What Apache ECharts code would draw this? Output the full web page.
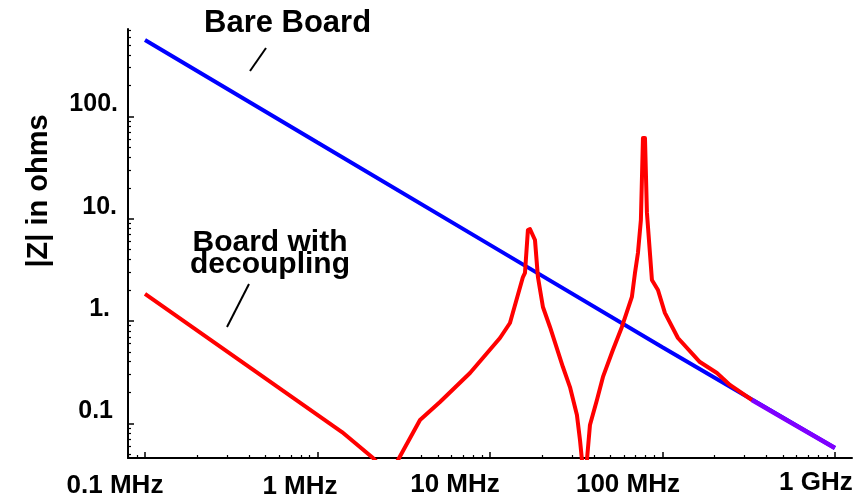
<!DOCTYPE html>
<html><head><meta charset="utf-8">
<script src="https://cdn.jsdelivr.net/npm/echarts@6/dist/echarts.min.js"></script>
<style>html,body{margin:0;padding:0;background:#fff}#c{width:865px;height:499px}</style>
</head><body><div id="c"></div>
<script>
// ---- tick values / labels ----
const freqMajor = [0.1, 1, 10, 100, 1000];
const freqLabels = ['0.1 MHz', '1 MHz', '10 MHz', '100 MHz', '1 GHz'];
const freqMinor = [0.08, 0.09, 0.2, 0.3, 0.4, 0.5, 0.6, 0.7, 0.8, 0.9, 2, 3, 4, 5, 6, 7, 8, 9,
  20, 30, 40, 50, 60, 70, 80, 90, 200, 300, 400, 500, 600, 700, 800, 900];
const zMajor = [0.1, 1, 10, 100];
const zLabels = ['0.1', '1.', '10.', '100.'];
const zMinor = [0.05, 0.06, 0.07, 0.08, 0.09, 0.2, 0.3, 0.4, 0.5, 0.6, 0.7, 0.8, 0.9,
  2, 3, 4, 5, 6, 7, 8, 9, 20, 30, 40, 50, 60, 70, 80, 90, 200, 300, 400, 500, 600, 700];

// ---- series (frequency in MHz, |Z| in ohms) ----
const bareFreq = [0.1, 1, 10, 100, 1000];
const bareZ = [558, 55.5, 5.55, 0.555, 0.0574];
const decFreq = [0.1, 1.387, 2.10, 2.63, 2.93, 3.93, 5.13, 7.66, 11.43, 13.06, 15.53, 15.96,
  16.60, 17.06, 18.24, 18.97, 20.28, 22.28, 26.49, 29.10, 31.93, 33.26, 34.15, 35.3, 36.5,
  38.0, 41.7, 45.2, 51.6, 58.2, 66.5, 69.3, 72.1, 75.0, 77.1, 79.2, 81.3, 86.9, 94.2, 103.3,
  123.0, 164.9, 207.0, 246.1, 330.4];
const decZ = [1.84, 0.0822, 0.0458, 0.0305, 0.0438, 0.1077, 0.1616, 0.310, 0.682, 0.956, 2.69,
  2.95, 7.76, 7.93, 6.19, 2.69, 1.37, 0.874, 0.355, 0.226, 0.1205, 0.0687, 0.0438, 0.0223,
  0.0438, 0.0962, 0.169, 0.284, 0.521, 0.874, 1.72, 2.95, 4.62, 9.71, 61.5, 61.5, 11.4, 2.52,
  2.01, 1.20, 0.682, 0.397, 0.310, 0.237, 0.169];
const overlapFreq = [330.4, 548, 1000];
const overlapZ = [0.169, 0.103, 0.0574];

const FONT = "'Liberation Sans', Arial, Helvetica, sans-serif";
const zip = (a, b) => a.map((v, i) => [v, b[i]]);
const nearestIdx = (arr, v) => {
  let best = 0, bd = Infinity;
  arr.forEach((t, i) => { const d = Math.abs(Math.log10(t) - Math.log10(v)); if (d < bd) { bd = d; best = i; } });
  return best;
};

const xLabelPad = [[6, 60, 0, 0], [9, 35, 0, 0], [5, 70, 0, 0], [5, 69, 0, 0], [0, 38, 0, 0]];
const yLabelPad = [[0, 5, 0, 0], [0, 8, 0, 0], [0, 1, 0, 0], [0, 0, 0, 0]];
const xRich = {}, yRich = {};
xLabelPad.forEach((p, i) => { xRich['x' + i] = { fontFamily: FONT, fontWeight: 'bold', fontSize: 26, color: '#000', lineHeight: 25, padding: p }; });
yLabelPad.forEach((p, i) => { yRich['y' + i] = { fontFamily: FONT, fontWeight: 'bold', fontSize: 25, color: '#000', lineHeight: 24, padding: p }; });

const XMIN = 0.0797, XMAX = 1256, YMIN = 0.0458, YMAX = 715;

const chart = echarts.init(document.getElementById('c'), null, { renderer: 'canvas' });
chart.setOption({
  backgroundColor: '#fff',
  animation: false,
  grid: { left: 128, right: 13, top: 29, bottom: 41, containLabel: false, outerBoundsMode: 'none' },
  xAxis: [
    {
      type: 'log', logBase: 10, min: XMIN, max: XMAX, position: 'bottom',
      axisLine: { show: true, lineStyle: { color: '#000', width: 2 } },
      axisTick: { show: true, inside: true, length: 6, customValues: freqMajor, lineStyle: { color: '#000', width: 1.5 } },
      axisLabel: {
        show: true, margin: 12, customValues: freqMajor,
        fontFamily: FONT, fontWeight: 'bold', fontSize: 26, color: '#000',
        formatter: v => { const i = nearestIdx(freqMajor, v); return '{x' + i + '|' + freqLabels[i] + '}'; },
        rich: xRich
      },
      splitLine: { show: false }, minorTick: { show: false }
    },
    {
      type: 'log', logBase: 10, min: XMIN, max: XMAX, position: 'bottom',
      axisLine: { show: false },
      axisTick: { show: true, inside: true, length: 3, customValues: freqMinor, lineStyle: { color: '#000', width: 1.2 } },
      axisLabel: { show: false },
      splitLine: { show: false }
    }
  ],
  yAxis: [
    {
      type: 'log', logBase: 10, min: YMIN, max: YMAX, position: 'left',
      name: '|Z| in ohms', nameLocation: 'middle', nameGap: 75,
      nameTextStyle: { fontFamily: FONT, fontWeight: 'bold', fontSize: 29, color: '#000', padding: [0, 0, 0, 105] },
      axisLine: { show: true, lineStyle: { color: '#000', width: 2 } },
      axisTick: { show: true, inside: true, length: 6, customValues: zMajor, lineStyle: { color: '#000', width: 1.5 } },
      axisLabel: {
        show: true, margin: 10, customValues: zMajor, verticalAlign: 'bottom',
        fontFamily: FONT, fontWeight: 'bold', fontSize: 25, color: '#000',
        formatter: v => { const i = nearestIdx(zMajor, v); return '{y' + i + '|' + zLabels[i] + '}'; },
        rich: yRich
      },
      splitLine: { show: false }
    },
    {
      type: 'log', logBase: 10, min: YMIN, max: YMAX, position: 'left',
      axisLine: { show: false },
      axisTick: { show: true, inside: true, length: 3, customValues: zMinor, lineStyle: { color: '#000', width: 1.2 } },
      axisLabel: { show: false },
      splitLine: { show: false }
    }
  ],
  series: [
    { name: 'Bare Board', type: 'line', xAxisIndex: 0, yAxisIndex: 0, data: zip(bareFreq, bareZ),
      showSymbol: false, symbol: 'none', clip: true, lineStyle: { color: '#0000ff', width: 4 }, z: 2 },
    { name: 'Board with decoupling', type: 'line', xAxisIndex: 0, yAxisIndex: 0, data: zip(decFreq, decZ),
      showSymbol: false, symbol: 'none', clip: true, lineStyle: { color: '#ff0000', width: 4, join: 'round' }, z: 3 },
    { name: 'Overlap', type: 'line', xAxisIndex: 0, yAxisIndex: 0, data: zip(overlapFreq, overlapZ),
      showSymbol: false, symbol: 'none', clip: true, lineStyle: { color: '#7f00ff', width: 4.5 }, z: 4 }
  ],
  graphic: [
    { type: 'text', left: 204, top: 8, style: { text: 'Bare Board', font: "bold 31px " + FONT, fill: '#000' } },
    { type: 'line', shape: { x1: 250, y1: 71, x2: 266, y2: 48 }, style: { stroke: '#000', lineWidth: 2 } },
    { type: 'text', x: 270, y: 232, style: { text: 'Board with\ndecoupling', font: "bold 30px " + FONT, fill: '#000', align: 'center', lineHeight: 22 } },
    { type: 'line', shape: { x1: 227, y1: 327, x2: 249, y2: 284 }, style: { stroke: '#000', lineWidth: 2 } }
  ]
});
</script></body></html>
